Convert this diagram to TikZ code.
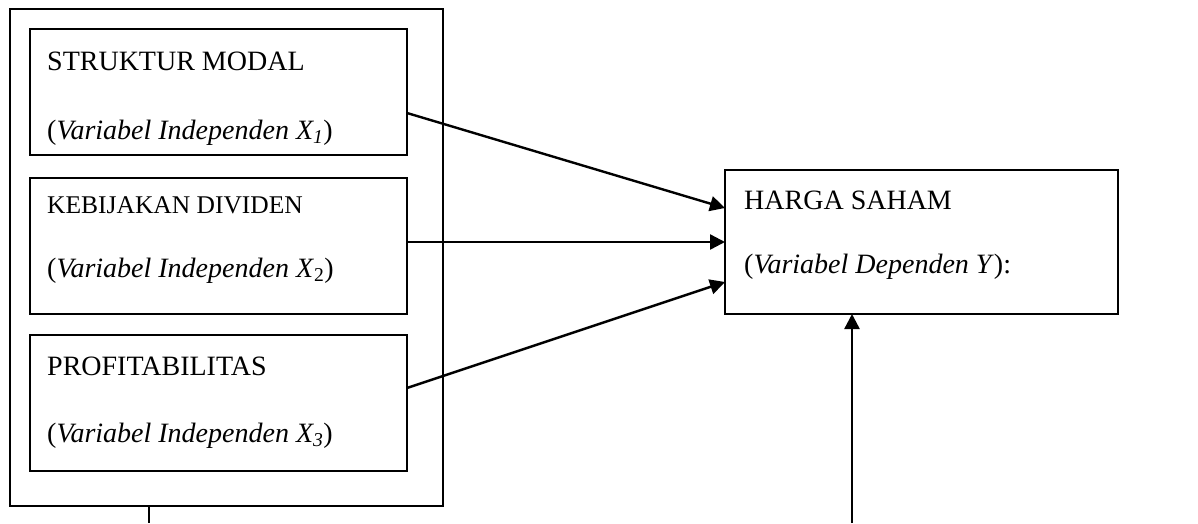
\documentclass[tikz,border=0pt]{standalone}
\usepackage{fontspec}
\setmainfont{Liberation Serif}
\usetikzlibrary{arrows.meta,calc}
\begin{document}
\begin{tikzpicture}[x=1pt,y=-1pt,
  boxline/.style={draw,line width=1.5pt,inner sep=0pt,outer sep=0pt,anchor=north west},
  lbl/.style={anchor=base west,inner sep=0pt,font=\fontsize{28}{32}\selectfont},
  lblsmall/.style={anchor=base west,inner sep=0pt,font=\fontsize{25.5}{30}\selectfont},
  conn/.style={line width=2.4pt,-{Triangle[length=15pt,width=15pt]}},
  plain/.style={line width=1.7pt}]
\useasboundingbox (0,0) rectangle (1198,523);
% boxes
\node[boxline,minimum width=433pt,minimum height=497pt] (outer) at (10,9) {};
\node[boxline,minimum width=377pt,minimum height=126pt] (b1) at (30,29) {};
\node[boxline,minimum width=377pt,minimum height=136pt] (b2) at (30,178) {};
\node[boxline,minimum width=377pt,minimum height=136pt] (b3) at (30,335) {};
\node[boxline,minimum width=393pt,minimum height=144pt] (y) at (725,170) {};
% texts
\node[lbl] (t1a) at (47,70) {STRUKTUR MODAL};
\node[lbl] (t1b) at (47,139) {(\textit{Variabel Independen X\textsubscript{1}})};
\node[lblsmall] (t2a) at (47,213) {KEBIJAKAN DIVIDEN};
\node[lbl] (t2b) at (47,277) {(\textit{Variabel Independen X}\textsubscript{2})};
\node[lbl] (t3a) at (47,375) {PROFITABILITAS};
\node[lbl] (t3b) at (47,442) {(\textit{Variabel Independen X\textsubscript{3}})};
\node[lbl] (tya) at (744,209) {HARGA SAHAM};
\node[lbl] (tyb) at (744,273) {(\textit{Variabel Dependen Y}):};
% connectors
\coordinate (bot1) at (149,523);
\coordinate (bot2) at (852,523);
\draw[conn] ([yshift=-21pt]b1.east) -- ([yshift=34pt]y.west);
\draw[conn] (b2.east |- y.west) -- (y.west);
\draw[conn] ([yshift=15pt]b3.east) -- ([yshift=-40pt]y.west);
\draw[conn] (bot2) -- (bot2 |- y.south);
\draw[plain] (bot1 |- outer.south) -- (bot1);
\end{tikzpicture}
\end{document}
